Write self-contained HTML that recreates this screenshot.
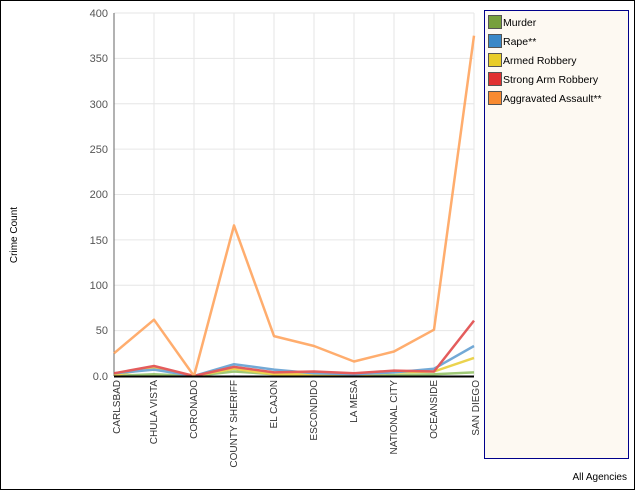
<!DOCTYPE html>
<html><head><style>
body{margin:0;width:635px;height:490px;overflow:hidden;background:#fff;font-family:"Liberation Sans",sans-serif}
</style></head><body>
<svg width="635" height="490" xmlns="http://www.w3.org/2000/svg" font-family="Liberation Sans, sans-serif">
<rect x="0.5" y="0.5" width="634" height="489" fill="#fff" stroke="#000"/>
<g stroke="#e6e6e6" stroke-width="1">
<line x1="114" y1="330.6" x2="474" y2="330.6"/><line x1="114" y1="285.3" x2="474" y2="285.3"/>
<line x1="114" y1="239.9" x2="474" y2="239.9"/><line x1="114" y1="194.5" x2="474" y2="194.5"/>
<line x1="114" y1="149.1" x2="474" y2="149.1"/><line x1="114" y1="103.8" x2="474" y2="103.8"/>
<line x1="114" y1="58.4" x2="474" y2="58.4"/><line x1="114" y1="13" x2="474" y2="13"/>
<line x1="154" y1="13" x2="154" y2="376"/><line x1="194" y1="13" x2="194" y2="376"/>
<line x1="234" y1="13" x2="234" y2="376"/><line x1="274" y1="13" x2="274" y2="376"/>
<line x1="314" y1="13" x2="314" y2="376"/><line x1="354" y1="13" x2="354" y2="376"/>
<line x1="394" y1="13" x2="394" y2="376"/><line x1="434" y1="13" x2="434" y2="376"/>
<line x1="474" y1="13" x2="474" y2="376"/>
</g>
<line x1="114" y1="13" x2="114" y2="376" stroke="#666"/>
<g font-size="11" fill="#555" text-anchor="end">
<text x="108" y="380">0.0</text><text x="108" y="334">50</text><text x="108" y="289">100</text>
<text x="108" y="244">150</text><text x="108" y="198">200</text><text x="108" y="153">250</text>
<text x="108" y="108">300</text><text x="108" y="62">350</text><text x="108" y="17">400</text>
</g>
<g fill="none" stroke-width="2.5" stroke-linejoin="round" opacity="0.85">
<polyline stroke="#8fc060" points="114,376 154,374.2 194,376 234,371.5 274,374.2 314,375.1 354,376 394,375.1 434,374.2 474,372.4"/>
<polyline stroke="#e8cc30" points="114,375.1 154,367.8 194,376 234,368.7 274,374.2 314,374.2 354,375.1 394,372.4 434,371.5 474,357.9"/>
<polyline stroke="#5b9bd0" points="114,373.3 154,369.6 194,376 234,364.2 274,369.6 314,373.3 354,374.2 394,372.4 434,368.7 474,346"/>
<polyline stroke="#e04040" points="114,373.3 154,366 194,376 234,366.9 274,372.4 314,371.5 354,373.3 394,370.6 434,371.5 474,320.6"/>
<polyline stroke="#ff9f55" points="114,353.3 154,319.7 194,376 234,225.4 274,336.1 314,346 354,361.5 394,351.5 434,329.7 474,35.7"/>
</g>
<line x1="114" y1="376.5" x2="474" y2="376.5" stroke="#000" stroke-width="2"/>
<g font-size="10" fill="#333" text-anchor="end">
<text transform="translate(120,380) rotate(-90)">CARLSBAD</text>
<text transform="translate(157,380) rotate(-90)">CHULA VISTA</text>
<text transform="translate(197,380) rotate(-90)">CORONADO</text>
<text transform="translate(237,380) rotate(-90)">COUNTY SHERIFF</text>
<text transform="translate(277,380) rotate(-90)">EL CAJON</text>
<text transform="translate(317,380) rotate(-90)">ESCONDIDO</text>
<text transform="translate(357,380) rotate(-90)">LA MESA</text>
<text transform="translate(397,380) rotate(-90)">NATIONAL CITY</text>
<text transform="translate(437,380) rotate(-90)">OCEANSIDE</text>
<text transform="translate(479,380) rotate(-90)">SAN DIEGO</text>
</g>
<text transform="translate(17,235) rotate(-90)" font-size="10" fill="#000" text-anchor="middle">Crime Count</text>
<text x="627" y="480" font-size="10" fill="#000" text-anchor="end">All Agencies</text>
<rect x="484.5" y="10.5" width="144" height="448" fill="#fdf9f2" stroke="#00008b"/>
<g font-size="10.5" fill="#000" stroke="#555">
<rect x="488.5" y="15.5" width="13" height="13" fill="#77a03c"/><text x="503" y="26" stroke="none">Murder</text>
<rect x="488.5" y="34.5" width="13" height="13" fill="#3a88c8"/><text x="503" y="45" stroke="none">Rape**</text>
<rect x="488.5" y="53.5" width="13" height="13" fill="#e8cc28"/><text x="503" y="64" stroke="none">Armed Robbery</text>
<rect x="488.5" y="72.5" width="13" height="13" fill="#e03030"/><text x="503" y="83" stroke="none">Strong Arm Robbery</text>
<rect x="488.5" y="91.5" width="13" height="13" fill="#f88a30"/><text x="503" y="102" stroke="none">Aggravated Assault**</text>
</g>
</svg>
</body></html>
